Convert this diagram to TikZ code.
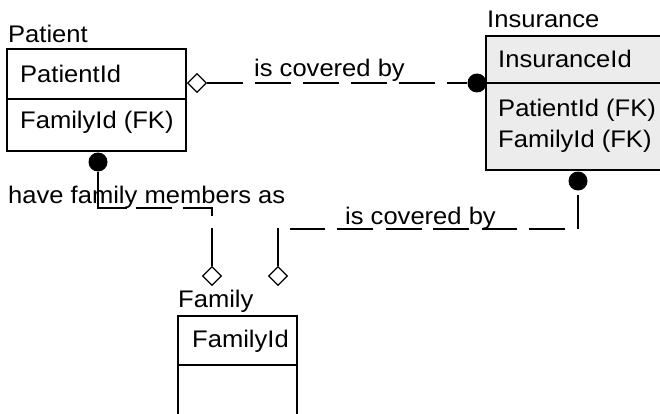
\documentclass[tikz,border=0pt]{standalone}
\usepackage{fontspec}
\setmainfont{Liberation Sans}[FakeStretch=1.065]
\usetikzlibrary{shapes.geometric}
\definecolor{insgray}{RGB}{236,236,236}
\begin{document}
\begin{tikzpicture}[x=1pt,y=-1pt,
  entity/.style={draw, line width=1.6pt, anchor=north west, inner sep=0pt, outer sep=0pt},
  divider/.style={line width=1.6pt},
  lbl/.style={anchor=base west, inner sep=0pt, font=\fontsize{24}{28}\selectfont},
  many/.style={circle, fill=black, inner sep=0pt, minimum size=19pt},
  zeroone/.style={diamond, draw, fill=white, line width=1.3pt, inner sep=0pt, minimum size=19pt},
  rel/.style={line width=1.5pt}]
\clip (0,0) rectangle (660,414);
\fill[white] (0,0) rectangle (660,414);

% entity boxes
\node[entity, minimum width=179pt, minimum height=102pt] (patient) at (7,49) {};
\draw[divider] (7,99) -- (186,99);
\node[entity, fill=insgray, minimum width=200pt, minimum height=134pt] (insurance) at (486,36) {};
\draw[divider] (486,83) -- (686,83);
\node[entity, minimum width=119pt, minimum height=130pt] (family) at (178,316) {};
\draw[divider] (178,365) -- (297,365);

% entity names and attributes
\node[lbl] (patientname) at (8,43) {Patient};
\node[lbl] (patientkey) at (20,83) {PatientId};
\node[lbl] (patientfk) at (20,129) {FamilyId (FK)};
\node[lbl] (insname) at (487,28) {Insurance};
\node[lbl] (inskey) at (498,68) {InsuranceId};
\node[lbl] (insfka) at (498,117) {PatientId (FK)};
\node[lbl] (insfkb) at (498,147) {FamilyId (FK)};
\node[lbl] (famname) at (178,307) {Family};
\node[lbl] (famkey) at (192,347) {FamilyId};

% relationship verbs
\node[lbl] (verbone) at (254,77) {is covered by};
\node[lbl] (verbtwo) at (345,224) {is covered by};
\node[lbl] (verbthree) at (8,203) {have family members as};

% cardinality symbols
\node[zeroone] (d1) at (197,83) {};
\node[many] (m1) at (477,83) {};
\node[many] (m2) at (98,162) {};
\node[zeroone] (d2) at (212,276) {};
\node[many] (m3) at (578,181) {};
\node[zeroone] (d3) at (278,276) {};

% bend points
\coordinate (b1) at (98,208);
\coordinate (b2) at (212,208);
\coordinate (c1) at (578,229);
\coordinate (c2) at (278,229);

% relationships (non-identifying, dashed)
\draw[rel, dash pattern=on 35.5pt off 12.5pt] (d1.east) -- (m1.west);
\draw[rel, dash pattern=on 65pt off 9pt on 36pt off 11pt on 37pt off 12pt on 60pt]
  (m2.south) -- (b1) -- (b2) -- (d2.north);
\draw[rel, dash pattern=on 0pt off 4pt on 34pt off 13pt on 36pt off 12pt on 35pt off 13pt on 36pt off 11pt on 36pt off 13pt on 36pt off 12pt on 35pt off 12pt on 60pt]
  (m3.south) -- (c1) -- (c2) -- (d3.north);
\end{tikzpicture}
\end{document}
